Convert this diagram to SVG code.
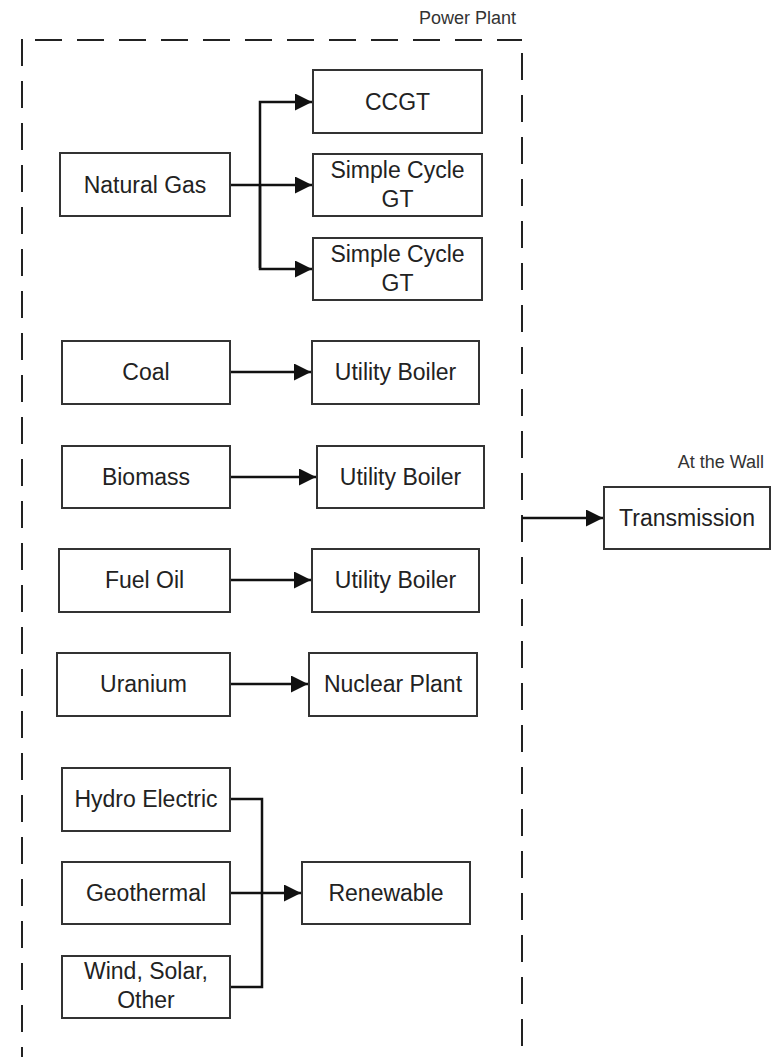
<svg xmlns="http://www.w3.org/2000/svg" width="772" height="1057" viewBox="0 0 772 1057">
<style>
.box{fill:#fff;stroke:#333;stroke-width:2}
.t{font-family:"Liberation Sans",Arial,sans-serif;font-size:23px;fill:#222;text-anchor:middle}
.lbl{font-family:"Liberation Sans",Arial,sans-serif;font-size:18px;fill:#333;text-anchor:end}
.c{fill:none;stroke:#111;stroke-width:2.5}
.dash{fill:none;stroke:#222;stroke-width:2;stroke-dasharray:27 15}
</style>
<defs>
<marker id="arr" markerUnits="userSpaceOnUse" markerWidth="18" markerHeight="18" refX="17" refY="8.5" orient="auto">
<path d="M0,0 L17,8.5 L0,17 z" fill="#111"/>
</marker>
</defs>
<rect width="772" height="1057" fill="#fff"/>
<g id="power-plant">
<line class="dash" x1="35" y1="40" x2="522" y2="40"/>
<line class="dash" x1="22" y1="39" x2="22" y2="1057"/>
<line class="dash" x1="522" y1="53" x2="522" y2="1057"/>
<text class="lbl" x="516" y="24">Power Plant</text>
</g>
<g id="connectors">
<path class="c" d="M230,185 H312" marker-end="url(#arr)"/>
<path class="c" d="M260,268 V102 H312" marker-end="url(#arr)"/>
<path class="c" d="M260,185 V269 H312" marker-end="url(#arr)"/>
<path class="c" d="M230,372 H311" marker-end="url(#arr)"/>
<path class="c" d="M230,477 H316" marker-end="url(#arr)"/>
<path class="c" d="M230,580 H311" marker-end="url(#arr)"/>
<path class="c" d="M230,684 H308" marker-end="url(#arr)"/>
<path class="c" d="M230,799 H262 V987 H230"/>
<path class="c" d="M230,893 H301" marker-end="url(#arr)"/>
<path class="c" d="M522,518 H603" marker-end="url(#arr)"/>
</g>
<g id="natural-gas"><rect class="box" x="60" y="153" width="170" height="63"/><text class="t" x="145" y="193">Natural Gas</text></g>
<g id="ccgt"><rect class="box" x="313" y="70" width="169" height="63"/><text class="t" x="397.5" y="110">CCGT</text></g>
<g id="simple-cycle-1"><rect class="box" x="313" y="154" width="169" height="62"/><text class="t" x="397.5" y="178">Simple Cycle</text><text class="t" x="397.5" y="207">GT</text></g>
<g id="simple-cycle-2"><rect class="box" x="313" y="238" width="169" height="62"/><text class="t" x="397.5" y="262">Simple Cycle</text><text class="t" x="397.5" y="291">GT</text></g>
<g id="coal"><rect class="box" x="62" y="341" width="168" height="63"/><text class="t" x="146" y="380">Coal</text></g>
<g id="utility-boiler-1"><rect class="box" x="312" y="341" width="167" height="63"/><text class="t" x="395.5" y="380">Utility Boiler</text></g>
<g id="biomass"><rect class="box" x="62" y="446" width="168" height="62"/><text class="t" x="146" y="485">Biomass</text></g>
<g id="utility-boiler-2"><rect class="box" x="317" y="446" width="167" height="62"/><text class="t" x="400.5" y="485">Utility Boiler</text></g>
<g id="fuel-oil"><rect class="box" x="59" y="549" width="171" height="63"/><text class="t" x="144.5" y="588">Fuel Oil</text></g>
<g id="utility-boiler-3"><rect class="box" x="312" y="549" width="167" height="63"/><text class="t" x="395.5" y="588">Utility Boiler</text></g>
<g id="uranium"><rect class="box" x="57" y="653" width="173" height="63"/><text class="t" x="143.5" y="692">Uranium</text></g>
<g id="nuclear-plant"><rect class="box" x="309" y="653" width="168" height="63"/><text class="t" x="393" y="692">Nuclear Plant</text></g>
<g id="hydro-electric"><rect class="box" x="62" y="768" width="168" height="63"/><text class="t" x="146" y="807">Hydro Electric</text></g>
<g id="geothermal"><rect class="box" x="62" y="862" width="168" height="62"/><text class="t" x="146" y="901">Geothermal</text></g>
<g id="wind-solar-other"><rect class="box" x="62" y="956" width="168" height="62"/><text class="t" x="146" y="979">Wind, Solar,</text><text class="t" x="146" y="1008">Other</text></g>
<g id="renewable"><rect class="box" x="302" y="862" width="168" height="62"/><text class="t" x="386" y="901">Renewable</text></g>
<g id="transmission"><rect class="box" x="604" y="487" width="166" height="62"/><text class="t" x="687" y="526">Transmission</text><text class="lbl" x="764" y="468">At the Wall</text></g>
</svg>
